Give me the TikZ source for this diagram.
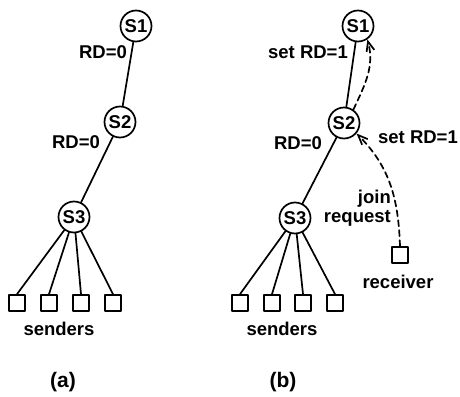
\documentclass[tikz,border=0pt]{standalone}
\usepackage{fontspec}
\setmainfont{Liberation Sans}
\usetikzlibrary{arrows.meta}

\begin{document}
\begin{tikzpicture}[x=1pt,y=-1pt,>={Straight Barb[length=3.4mm,width=2.8mm]},line cap=round,line join=round,
  srv/.style={draw,circle,line width=1.7pt,minimum size=31pt,inner sep=0pt,font=\fontsize{18.5}{20}\selectfont\bfseries},
  host/.style={draw,rectangle,line width=1.7pt,minimum size=16pt,inner sep=0pt},
  lbl/.style={inner sep=1pt,font=\fontsize{18.5}{20}\selectfont\bfseries},
  link/.style={line width=1.7pt},
  msg/.style={->,line width=1.7pt,dash pattern=on 6pt off 4pt}]
\useasboundingbox (0,0) rectangle (460,396);
% (a)
\node[srv] (S1a) at (136,26) {S1};
\node[srv] (S2a) at (120,122) {S2};
\node[srv] (S3a) at (74,217) {S3};
\node[host] (H1a) at (17,303) {};
\node[host] (H2a) at (49,303) {};
\node[host] (H3a) at (81,303) {};
\node[host] (H4a) at (113,303) {};
\draw[link] (S1a) -- (S2a);
\draw[link] (S2a) -- (S3a);
\draw[link] (S3a) -- (H1a.north);
\draw[link] (S3a) -- (H2a.north);
\draw[link] (S3a) -- (H3a.north);
\draw[link] (S3a) -- (H4a.north);
\node[lbl] (rd1a) at (103,52) {RD=0};
\node[lbl] (rd2a) at (76,142) {RD=0};
\node[lbl] (senda) at (59,329) {senders};
\node[lbl,font=\fontsize{21}{22}\selectfont\bfseries] (capa) at (63,382) {(a)};
% (b)
\node[srv] (S1b) at (358,26) {S1};
\node[srv] (S2b) at (344,123) {S2};
\node[srv] (S3b) at (295,218) {S3};
\node[host] (H1b) at (240,303) {};
\node[host] (H2b) at (272,303) {};
\node[host] (H3b) at (303,303) {};
\node[host] (H4b) at (335,303) {};
\node[host] (recv) at (400,255) {};
\draw[link] (S1b) -- (S2b);
\draw[link] (S2b) -- (S3b);
\draw[link] (S3b) -- (H1b.north);
\draw[link] (S3b) -- (H2b.north);
\draw[link] (S3b) -- (H3b.north);
\draw[link] (S3b) -- (H4b.north);
\draw[msg] (recv.north) to[out=92,in=-45] (S2b.-40);
\draw[msg] (S2b.55) to[out=65,in=-75] (S1b.-55);
\node[lbl] (rd1b) at (308,52) {set RD=1};
\node[lbl] (rd2b) at (298,143) {RD=0};
\node[lbl] (rd3b) at (418,137) {set RD=1};
\node[lbl,align=right,anchor=east,font=\fontsize{18.5}{19}\selectfont\bfseries] (join) at (392,208) {join\\request};
\node[lbl] (recvl) at (398,282) {receiver};
\node[lbl] (sendb) at (282,329) {senders};
\node[lbl,font=\fontsize{21}{22}\selectfont\bfseries] (capb) at (283,382) {(b)};
\end{tikzpicture}
\end{document}
